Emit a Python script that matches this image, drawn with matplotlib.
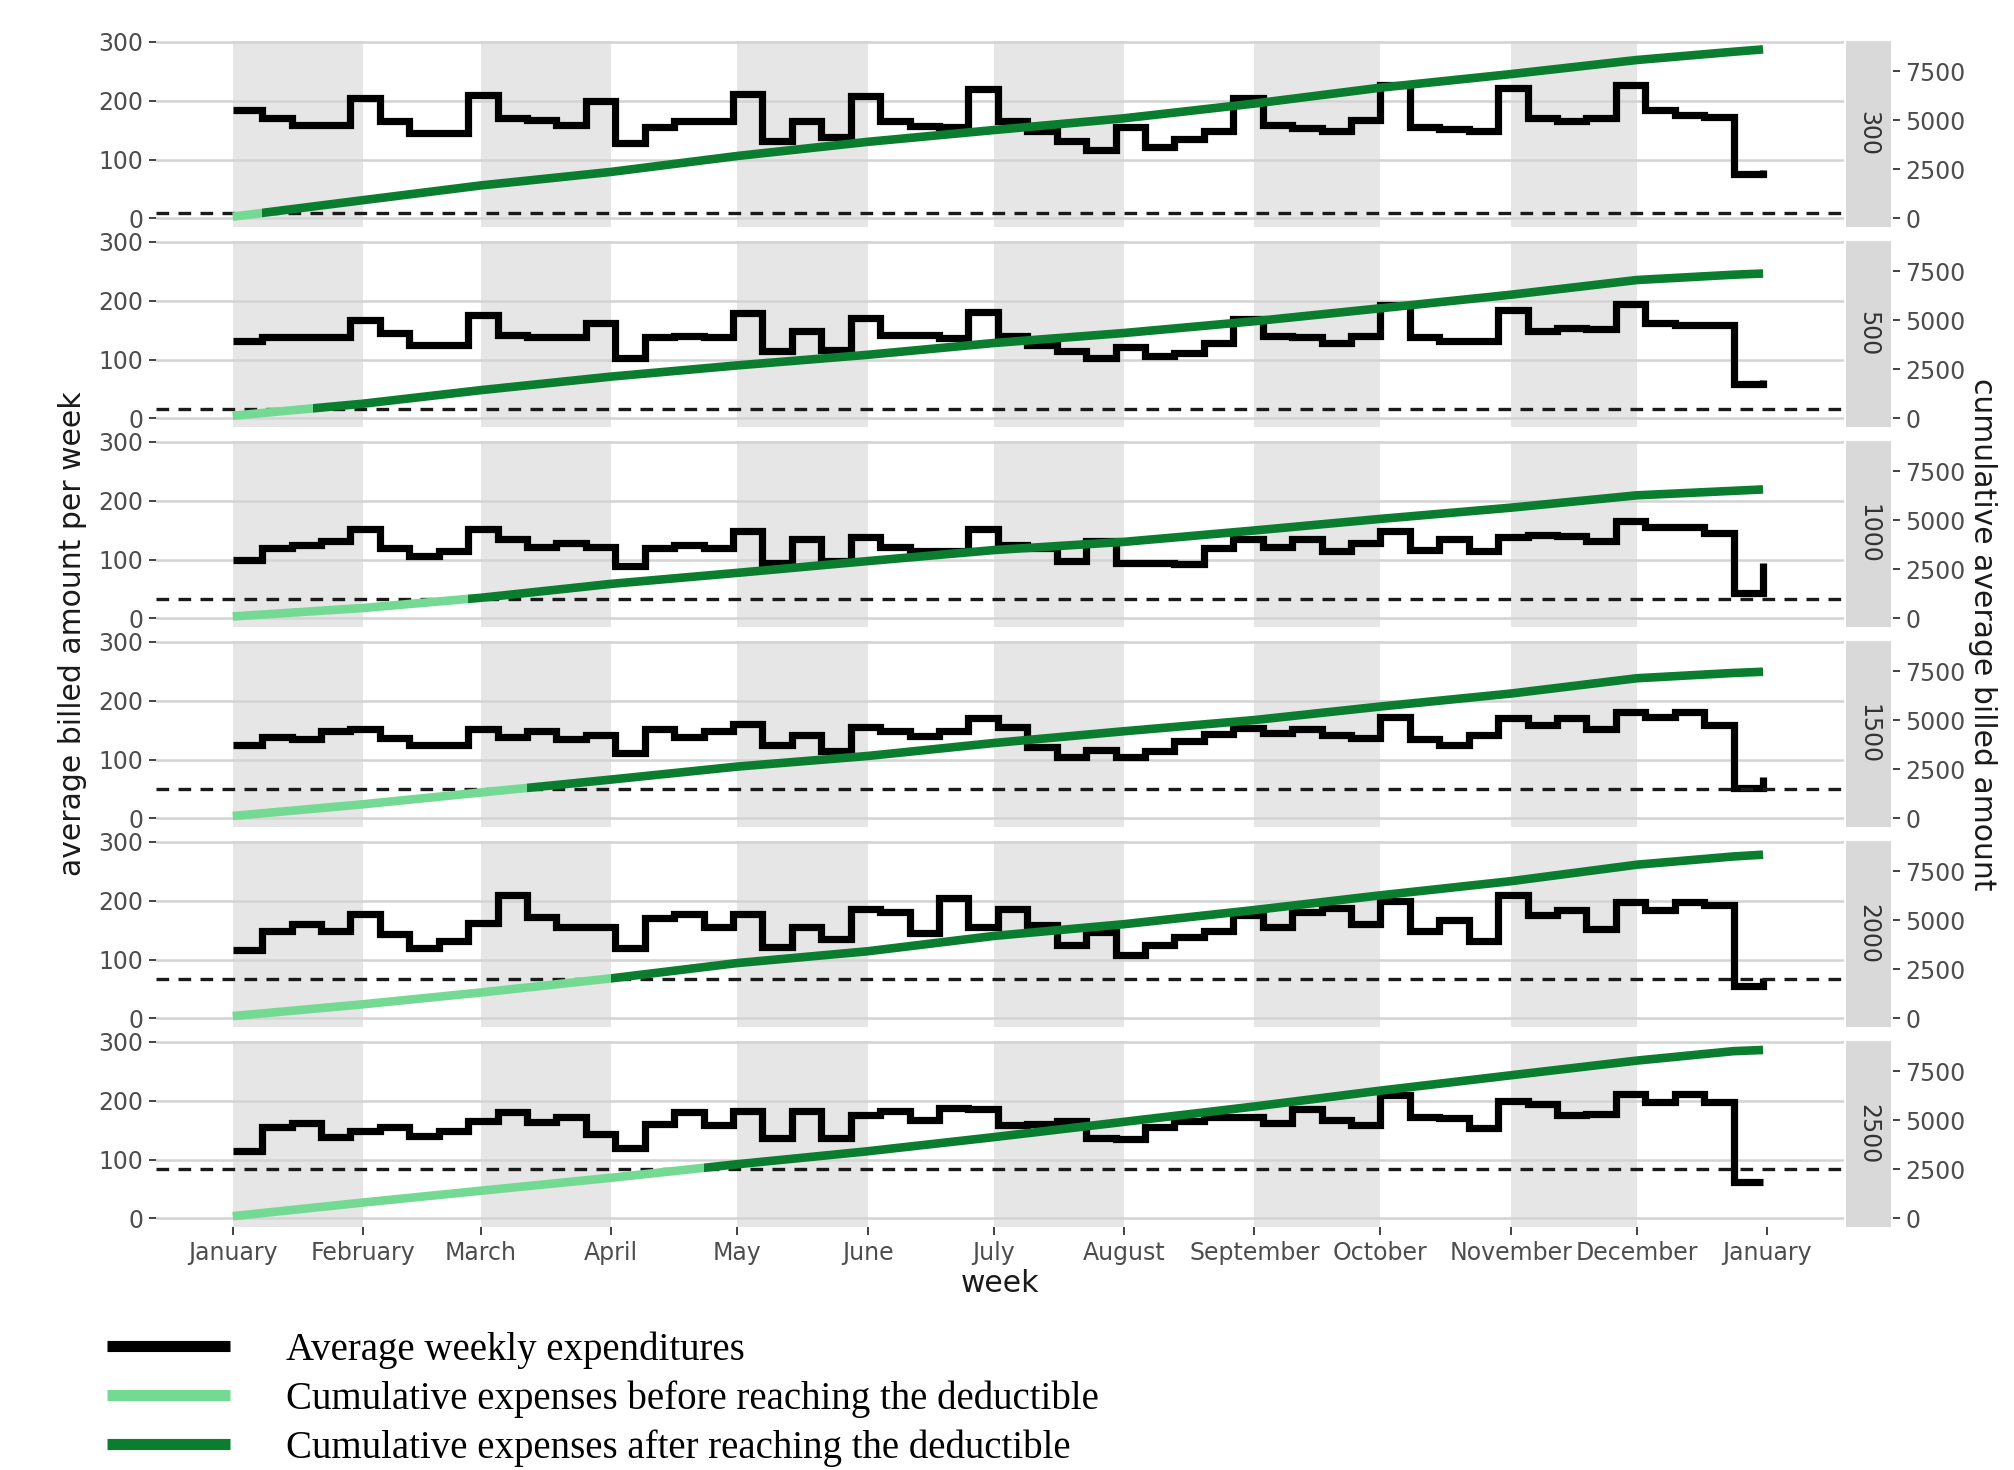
import numpy as np
import pandas as pd
import matplotlib
matplotlib.use('Agg')
import matplotlib.pyplot as plt
import matplotlib.dates as mdates
from matplotlib.lines import Line2D
from matplotlib.patches import Rectangle

# deductible level of each panel
deductibles = [300, 500, 1000, 1500, 2000, 2500]

# start of each week (53 points, geom_step style)
weeks = pd.date_range('2019-01-01', periods=53, freq='7D')

# average billed amount per week
weekly_300 = [184, 170, 159, 159, 204, 165, 145, 145, 210, 170, 167, 159, 199, 128, 156, 165, 165, 212,
              131, 165, 139, 207, 165, 157, 156, 219, 165, 148, 131, 117, 156, 122, 134, 148, 204, 159,
              153, 148, 167, 226, 156, 151, 148, 221, 170, 165, 170, 226, 184, 176, 173, 75, 83]
weekly_500 = [132, 139, 139, 139, 167, 145, 125, 125, 176, 142, 138, 138, 162, 103, 139, 140, 138, 179,
              114, 148, 117, 170, 142, 142, 137, 181, 140, 125, 114, 103, 122, 106, 111, 128, 169, 140,
              138, 128, 140, 193, 139, 131, 131, 184, 148, 153, 151, 194, 162, 159, 159, 58, 66]
weekly_1000 = [100, 120, 125, 131, 152, 120, 106, 114, 152, 135, 122, 128, 122, 89, 120, 125, 120, 148,
               94, 134, 97, 138, 122, 114, 114, 152, 125, 120, 97, 131, 94, 94, 92, 120, 134, 122,
               134, 114, 128, 148, 117, 134, 114, 139, 142, 140, 131, 165, 156, 156, 145, 44, 94]
weekly_1500 = [125, 138, 134, 149, 152, 137, 125, 125, 152, 138, 148, 134, 142, 111, 151, 139, 148, 161,
               125, 142, 114, 155, 149, 140, 148, 170, 155, 122, 104, 116, 104, 114, 131, 144, 153, 145,
               152, 142, 137, 172, 134, 125, 142, 170, 159, 170, 151, 181, 172, 180, 159, 52, 70]
weekly_2000 = [117, 148, 161, 149, 178, 144, 120, 131, 162, 210, 172, 156, 156, 120, 170, 178, 155, 178,
               122, 155, 134, 185, 181, 145, 204, 156, 185, 159, 125, 146, 108, 125, 138, 148, 176, 156,
               181, 187, 161, 200, 148, 167, 131, 210, 176, 184, 152, 197, 184, 198, 193, 55, 69]
weekly_2500 = [114, 156, 162, 138, 149, 156, 140, 149, 166, 180, 163, 172, 144, 120, 161, 181, 159, 183,
               137, 183, 137, 176, 183, 167, 187, 185, 159, 161, 166, 137, 134, 156, 165, 172, 173, 162,
               185, 167, 159, 210, 172, 170, 153, 200, 194, 176, 178, 212, 197, 211, 197, 61, 61]
weekly = [weekly_300, weekly_500, weekly_1000, weekly_1500, weekly_2000, weekly_2500]

# cumulative average billed amount, read at the start of each month
cum_dates = pd.to_datetime(['2019-01-01', '2019-02-01', '2019-03-01', '2019-04-01', '2019-05-01',
                            '2019-06-01', '2019-07-01', '2019-08-01', '2019-09-01', '2019-10-01',
                            '2019-11-01', '2019-12-01', '2019-12-24', '2019-12-31'])
cum_300 = [90, 930, 1680, 2370, 3180, 3900, 4500, 5100, 5850, 6660, 7350, 8070, 8490, 8610]
cum_500 = [135, 750, 1440, 2130, 2700, 3240, 3840, 4350, 4950, 5610, 6300, 7050, 7320, 7380]
cum_1000 = [100, 530, 1050, 1760, 2320, 2920, 3480, 3900, 4480, 5070, 5640, 6270, 6500, 6570]
cum_1500 = [125, 720, 1320, 1980, 2640, 3180, 3840, 4440, 5010, 5700, 6360, 7140, 7410, 7470]
cum_2000 = [117, 720, 1320, 2040, 2820, 3420, 4200, 4800, 5520, 6270, 6990, 7830, 8250, 8340]
cum_2500 = [114, 810, 1410, 2070, 2760, 3420, 4140, 4920, 5700, 6510, 7290, 8040, 8520, 8580]
cumulative = [cum_300, cum_500, cum_1000, cum_1500, cum_2000, cum_2500]

# date on which the cumulative amount reaches the deductible
reach_dates = ['2019-01-08', '2019-01-20', '2019-02-26', '2019-03-12', '2019-04-01', '2019-04-23']

light_green = '#74d993'
dark_green = '#0a7d2e'
sec_scale = 30  # right axis = left axis * 30

W, H = 2014, 1470
fig = plt.figure(figsize=(W / 100, H / 100), dpi=100)

left_px, right_px = 156, 1844
panel_h = 186
ylo, yhi = -14.4, 301.4
xlo = pd.Timestamp('2019-01-01') - pd.Timedelta(days=18.25)
xhi = pd.Timestamp('2020-01-01') + pd.Timedelta(days=18.25)

for i, ded in enumerate(deductibles):
    top_px = 40.9 + 200 * i
    rect = [left_px / W, 1 - (top_px + panel_h) / H, (right_px - left_px) / W, panel_h / H]
    ax = fig.add_axes(rect)
    ax.set_xlim(xlo, xhi)
    ax.set_ylim(ylo, yhi)
    for s in ax.spines.values():
        s.set_visible(False)

    # shaded months
    for m in [1, 3, 5, 7, 9, 11]:
        ax.axvspan(pd.Timestamp(2019, m, 1), pd.Timestamp(2019, m + 1, 1), color='#e6e6e6', lw=0, zorder=0)
    ax.set_yticks([0, 100, 200, 300])
    ax.grid(axis='y', color='#d3d3d3', lw=1.8, zorder=0.5)
    ax.set_axisbelow(True)

    ax.step(weeks, weekly[i], where='post', color='black', lw=5.2,
            solid_joinstyle='miter', solid_capstyle='butt', zorder=3)

    ax.tick_params(axis='y', length=5, width=1.3, color='#333333', labelcolor='#4d4d4d',
                   labelsize=17, pad=4)
    ax.xaxis.set_major_locator(mdates.MonthLocator())
    ax.xaxis.set_major_formatter(mdates.DateFormatter('%B'))
    if i == len(deductibles) - 1:
        ax.tick_params(axis='x', length=6, width=1.3, color='#333333', labelcolor='#4d4d4d',
                       labelsize=17, pad=4)
        ax.set_xlabel('week', fontsize=21.5, color='#1a1a1a', labelpad=3)
    else:
        ax.tick_params(axis='x', length=0, labelbottom=False)

    # cumulative amount on the secondary axis
    ax2 = ax.twinx()
    ax2.set_ylim(ylo * sec_scale, yhi * sec_scale)
    ax2.set_yticks([0, 2500, 5000, 7500])
    for s in ax2.spines.values():
        s.set_visible(False)
    ax2.spines['right'].set_position(('axes', (1893 - left_px) / (right_px - left_px)))
    ax2.tick_params(axis='y', length=5, width=1.3, color='#333333', labelcolor='#4d4d4d',
                    labelsize=17, pad=4)

    ax2.axhline(ded, color='#1a1a1a', lw=2.4, dashes=(3.8, 2.8), zorder=2)

    x_reach = mdates.date2num(pd.Timestamp(reach_dates[i]))
    x_end = mdates.date2num(xhi)
    x_start = mdates.date2num(xlo)
    before, = ax2.plot(cum_dates, cumulative[i], color=light_green, lw=6.2,
                       solid_capstyle='butt', solid_joinstyle='round', zorder=4)
    after, = ax2.plot(cum_dates, cumulative[i], color=dark_green, lw=6.2,
                      solid_capstyle='butt', solid_joinstyle='round', zorder=4)
    before.set_clip_path(Rectangle((x_start, ylo * sec_scale), x_reach - x_start,
                                   (yhi - ylo) * sec_scale, transform=ax2.transData))
    after.set_clip_path(Rectangle((x_reach, ylo * sec_scale), x_end - x_reach,
                                  (yhi - ylo) * sec_scale, transform=ax2.transData))

    # facet strip
    sax = fig.add_axes([1846 / W, rect[1], 45 / W, rect[3]])
    sax.set_facecolor('#d9d9d9')
    sax.set_xticks([])
    sax.set_yticks([])
    for s in sax.spines.values():
        s.set_visible(False)
    sax.text(0.5, 0.5, str(ded), rotation=-90, ha='center', va='center', fontsize=17,
             color='#333333', transform=sax.transAxes)

# axis titles
fig.text(73 / W, 1 - 634 / H, 'average billed amount per week', rotation=90, ha='center', va='center',
         fontsize=21.5, color='#1a1a1a')
fig.text(1982 / W, 1 - 634 / H, 'cumulative average billed amount', rotation=-90, ha='center',
         va='center', fontsize=21.5, color='#1a1a1a')

# legend
handles = [Line2D([], [], color='black', lw=8, solid_capstyle='butt'),
           Line2D([], [], color=light_green, lw=8, solid_capstyle='butt'),
           Line2D([], [], color=dark_green, lw=8, solid_capstyle='butt')]
labels = ['Average weekly expenditures',
          'Cumulative expenses before reaching the deductible',
          'Cumulative expenses after reaching the deductible']
fig.legend(handles, labels, loc='center left', bbox_to_anchor=(107 / W, 1 - 1399 / H),
           frameon=False, prop={'family': 'Liberation Serif', 'size': 28},
           handlelength=3.15, handletextpad=1.45, labelspacing=0.3, borderpad=0, borderaxespad=0)

fig.savefig('out.png', dpi=100)
